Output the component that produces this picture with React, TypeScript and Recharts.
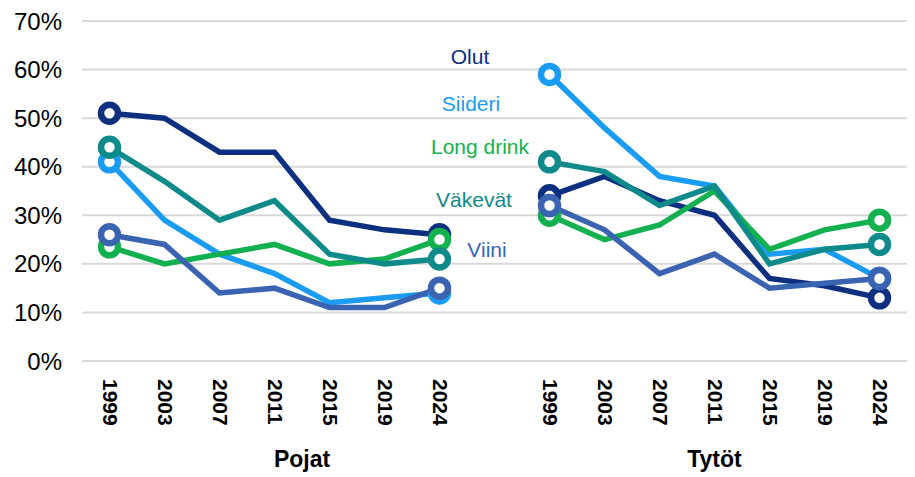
import React from "react";
import { LineChart, Line, XAxis, YAxis, CartesianGrid } from "recharts";

const years = ["1999", "2003", "2007", "2011", "2015", "2019", "2024"];
const groups = ["Pojat", "Tytöt"];
const yTicks = [0, 10, 20, 30, 40, 50, 60, 70];

// Pojat
const olutP = [51, 50, 43, 43, 29, 27, 26];
const siideriP = [41, 29, 22, 18, 12, 13, 14];
const longDrinkP = [23.5, 20, 22, 24, 20, 21, 25];
const vakevatP = [44, 37, 29, 33, 22, 20, 21];
const viiniP = [26, 24, 14, 15, 11, 11, 15];

// Tytöt
const olutT = [34, 38, 33, 30, 17, 15.5, 13];
const siideriT = [59, 48, 38, 36, 22, 23, 17];
const longDrinkT = [30, 25, 28, 35, 23, 27, 29];
const vakevatT = [41, 39, 32, 36, 20, 23, 24];
const viiniT = [32, 27, 18, 22, 15, 16, 17];

const series = [
  { key: "olut", name: "Olut", color: "#0c2f80", p: olutP, t: olutT },
  { key: "siideri", name: "Siideri", color: "#1a9cf5", p: siideriP, t: siideriT },
  { key: "longDrink", name: "Long drink", color: "#13b04f", p: longDrinkP, t: longDrinkT },
  { key: "vakevat", name: "Väkevät", color: "#0f8a8a", p: vakevatP, t: vakevatT },
  { key: "viini", name: "Viini", color: "#3a64b2", p: viiniP, t: viiniT },
];

const data: any[] = [];
years.forEach((y, i) => {
  const row: any = { key: "P" + y, year: y };
  series.forEach((s) => (row[s.key] = s.p[i]));
  data.push(row);
});
data.push({ key: "gap", year: "" });
years.forEach((y, i) => {
  const row: any = { key: "T" + y, year: y };
  series.forEach((s) => (row[s.key] = s.t[i]));
  data.push(row);
});

const endIdx = [0, 6, 8, 14];

const labels = [
  { text: "Olut", x: 470, y: 57, color: "#0c2f80" },
  { text: "Siideri", x: 471, y: 104, color: "#1a9cf5" },
  { text: "Long drink", x: 480, y: 147, color: "#13b04f" },
  { text: "Väkevät", x: 474, y: 200, color: "#0f8a8a" },
  { text: "Viini", x: 487, y: 250, color: "#3a64b2" },
];

const font = "'Liberation Sans', Arial, sans-serif";
const xPad = { left: 27.5, right: 27.5 };

const YearTick = (props: any) => {
  const { x, y, index } = props;
  const row = data[index];
  if (!row || !row.year) return <g />;
  return (
    <text
      transform={`translate(${x + 1},${y + 10}) rotate(90)`}
      textAnchor="start"
      dominantBaseline="central"
      fontSize={21}
      fontWeight="bold"
      fontFamily={font}
      fill="#000"
    >
      {row.year}
    </text>
  );
};

const GroupTick = (props: any) => {
  const { x, y, index } = props;
  let label = "";
  let dx = 0;
  if (index === 3) {
    label = groups[0];
    dx = 27.5;
  } else if (index === 11) {
    label = groups[1];
  }
  if (!label) return <g />;
  return (
    <text
      x={x + dx}
      y={y + 28}
      textAnchor="middle"
      fontSize={23}
      fontWeight="bold"
      fontFamily={font}
      fill="#000"
    >
      {label}
    </text>
  );
};

const makeDot = (color: string) => (props: any) => {
  const { cx, cy, index, value } = props;
  if (!endIdx.includes(index) || value == null || cy == null) return <g key={"d" + index} />;
  return (
    <circle
      key={"d" + index}
      cx={cx}
      cy={cy}
      r={8.5}
      fill="#fff"
      stroke={color}
      strokeWidth={6.5}
    />
  );
};

export default function App() {
  return (
    <div style={{ position: "absolute", left: 0, top: 0, width: 915, height: 477, background: "#fff" }}>
      <LineChart
        width={915}
        height={477}
        data={data}
        margin={{ top: 21, right: 8, bottom: 0, left: 0 }}
      >
        <CartesianGrid vertical={false} stroke="#d9d9d9" strokeWidth={2} />
        <XAxis
          dataKey="key"
          interval={0}
          axisLine={false}
          tickLine={false}
          height={70}
          padding={xPad}
          tick={<YearTick />}
        />
        <XAxis
          xAxisId="grp"
          dataKey="key"
          interval={0}
          axisLine={false}
          tickLine={false}
          height={46}
          padding={xPad}
          tick={<GroupTick />}
        />
        <YAxis
          domain={[0, 70]}
          ticks={yTicks}
          width={82}
          axisLine={false}
          tickLine={false}
          tickMargin={14}
          tickFormatter={(v) => v + "%"}
          tick={{ fontSize: 24, fill: "#000", fontFamily: font }}
        />
        {series.map((s) => (
          <Line
            key={s.key}
            dataKey={s.key}
            stroke={s.color}
            strokeWidth={5.5}
            dot={makeDot(s.color)}
            activeDot={false}
            connectNulls={false}
            isAnimationActive={false}
          />
        ))}
      </LineChart>
      {labels.map((l) => (
        <div
          key={l.text}
          style={{
            position: "absolute",
            left: l.x,
            top: l.y,
            transform: "translate(-50%, -50%)",
            color: l.color,
            fontFamily: font,
            fontSize: 21,
            whiteSpace: "nowrap",
          }}
        >
          {l.text}
        </div>
      ))}
    </div>
  );
}
